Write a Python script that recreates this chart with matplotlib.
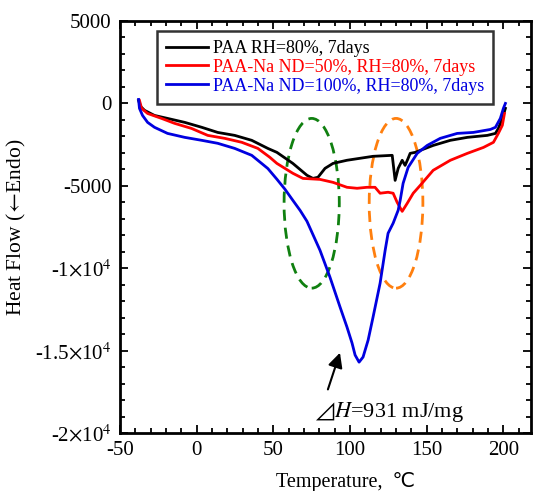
import matplotlib
matplotlib.use("Agg")
import matplotlib.pyplot as plt
from matplotlib.patches import Ellipse

plt.rcParams["font.family"] = ["Liberation Serif", "DejaVu Sans", "Noto Sans CJK JP"]
plt.rcParams["mathtext.fontset"] = "stix"
plt.rcParams["axes.unicode_minus"] = False

# DSC traces: temperature (degC) vs heat flow
t_paa = [-37.9, -36.6, -34.0, -27.5, -19.0, -7.8, 3.3, 13.7, 24.8, 35.9, 46.4, 52.3,
         62.7, 71.9, 75.8, 79.1, 83.7, 88.9, 98.0, 106.5, 115.0, 127.5, 129.4,
         131.4, 134.0, 135.9, 137.9, 139.2, 142.5, 145.8, 154.2, 165.4, 176.5,
         189.5, 194.8, 196.7, 199.3, 201.3]
hf_paa = [180, -180, -420, -730, -910, -1150, -1450, -1760, -1940, -2240, -2730,
          -2970, -3640, -4360, -4550, -4480, -3940, -3640, -3450, -3330, -3210,
          -3150, -4670, -3940, -3450, -3760, -3330, -3030, -2970, -2850, -2550,
          -2240, -2060, -1940, -1820, -1520, -910, -300]

t_na50 = [-37.3, -35.9, -32.0, -22.9, -14.4, -3.3, 7.2, 18.3, 29.4, 39.9, 47.7,
          52.3, 62.7, 69.3, 80.4, 88.9, 98.0, 104.6, 111.1, 116.3, 119.6, 124.8,
          128.1, 130.7, 134.0, 137.3, 141.2, 145.8, 154.2, 165.4, 176.5, 187.0,
          193.5, 196.7, 199.3, 200.7]
hf_na50 = [180, -300, -610, -910, -1210, -1520, -1940, -2120, -2360, -2730, -3270,
           -3640, -4240, -4550, -4610, -4790, -5090, -5150, -5090, -5090, -5450,
           -5390, -5450, -6000, -6550, -6060, -5450, -4970, -4060, -3450, -3030,
           -2670, -2360, -1820, -1330, -610]

t_na100 = [-37.9, -37.3, -35.3, -32.0, -27.5, -19.0, -7.8, 3.3, 13.7, 24.8, 35.9,
           46.4, 52.3, 57.5, 62.7, 67.5, 71.9, 80.4, 86.9, 93.5, 98.0, 101.3, 103.3,
           105.9, 108.5, 111.8, 115.0, 119.6, 122.9, 124.8, 128.1, 131.4, 132.7,
           134.6, 137.9, 143.8, 150.3, 158.8, 169.9, 180.4, 191.5, 194.8, 198.0,
           200.0, 201.3]
hf_na100 = [240, -300, -730, -1150, -1450, -1820, -2060, -2240, -2420, -2730,
            -3150, -3950, -4600, -5200, -5880, -6500, -7150, -8910, -10540, -12360,
            -13570, -14540, -15270, -15700, -15390, -14360, -12970, -10910, -8910,
            -7880, -7270, -6480, -5880, -4850, -3880, -3030, -2550, -2120, -1820,
            -1760, -1580, -1450, -910, -300, 0]

labels = ["PAA RH=80%, 7days",
          "PAA-Na ND=50%, RH=80%, 7days",
          "PAA-Na ND=100%, RH=80%, 7days"]
colors = ["black", "#ff0000", "#0000e0"]

y_ticks = [5000, 0, -5000, -10000, -15000, -20000]
y_ticklabels = ["5000", "0", "-5000", r"-1$\times$10$^4$", r"-1.5$\times$10$^4$",
                r"-2$\times$10$^4$"]
x_ticks = [-50, 0, 50, 100, 150, 200]

# marked regions: (centre T, centre HF, width, height, colour)
regions = [(75, -6060, 36, 10300, "#108010"),
           (130, -6060, 35, 10300, "#ff7f0e")]

dH_peak = (94, -14970)
dH_tail = (85, -17515)

fig = plt.figure(figsize=(5.34, 4.91), dpi=100)
ax = fig.add_axes([0.2247, 0.1181, 0.7697, 0.8391])

for t, hf, lab, c in zip([t_paa, t_na50, t_na100], [hf_paa, hf_na50, hf_na100],
                         labels, colors):
    ax.plot(t, hf, color=c, lw=2.0, label=lab, solid_joinstyle="round")

for cx, cy, w, h, c in regions:
    ax.add_patch(Ellipse((cx, cy), w, h, fill=False, ec=c, lw=2.0,
                         ls=(0, (4, 2.5))))

ax.annotate("", xy=dH_peak, xytext=dH_tail,
            arrowprops=dict(arrowstyle="-|>", color="k", lw=1.5, mutation_scale=22))
ax.text(76.5, -18730, r"$\mathrm{⊿}\mathit{H}$=931 mJ/mg",
        fontsize=16, va="center", ha="left")

ax.set_xlim(-50, 218)
ax.set_ylim(-20000, 5000)
ax.set_xticks(x_ticks)
ax.set_xticks(range(-50, 211, 10), minor=True)
ax.set_yticks(y_ticks)
ax.set_yticklabels(y_ticklabels)
ax.set_yticks(range(-20000, 5001, 1000), minor=True)
ax.tick_params(which="both", direction="in", top=True, right=True, labelsize=15,
               width=1.3)
ax.tick_params(which="major", length=6, pad=6)
ax.tick_params(which="minor", length=3.5)
for s in ax.spines.values():
    s.set_linewidth(2.0)

ax.set_xlabel("Temperature,  ℃", fontsize=14.5)
ax.xaxis.set_label_coords(0.55, -0.095)
ax.set_ylabel(r"Heat Flow ($\!\leftarrow\!$Endo)", fontsize=15.5)
ax.yaxis.set_label_coords(-0.225, 0.5)

leg = ax.legend(loc="upper left", bbox_to_anchor=(0.09, 0.976), borderaxespad=0,
                fontsize=13, frameon=True, fancybox=False, handlelength=2.3,
                handletextpad=0.3, labelspacing=0.1, borderpad=0.5)
leg.get_frame().set_edgecolor("black")
leg.get_frame().set_linewidth(1.8)
for txt, c in zip(leg.get_texts(), colors):
    txt.set_color(c)

fig.savefig("out.png", dpi=100)
